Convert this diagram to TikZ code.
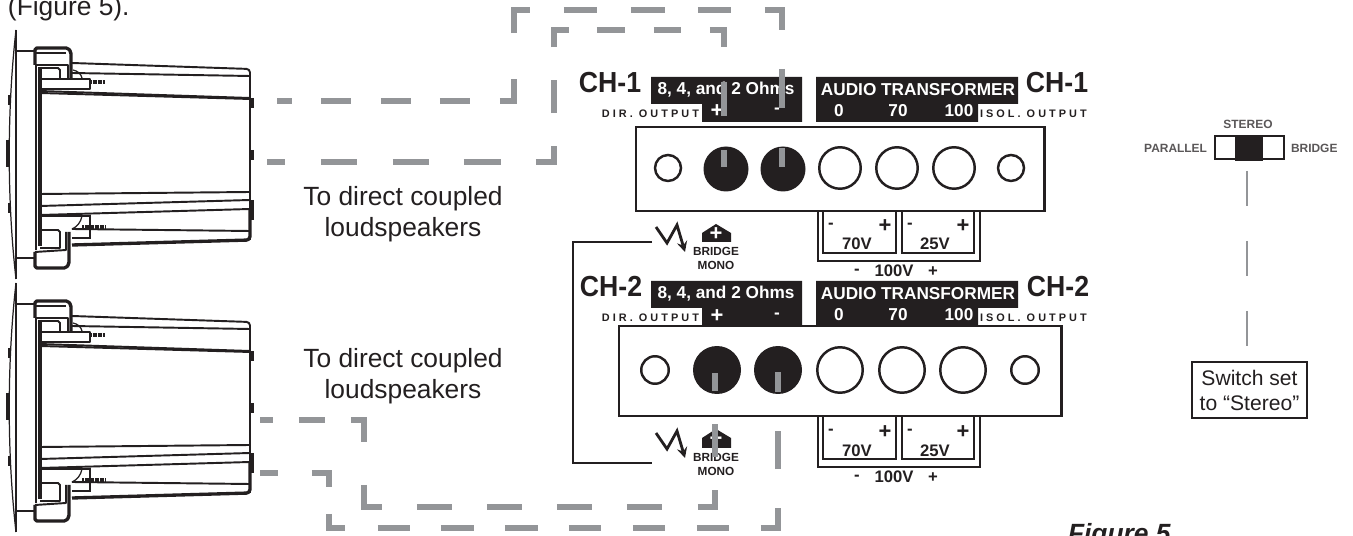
\documentclass[tikz,border=0pt]{standalone}
\usepackage{fontspec}
\setmainfont{Liberation Sans}
\newfontfamily\chfont[FakeStretch=0.92]{Liberation Sans}
\newfontfamily\tagfont[LetterSpace=28]{Liberation Sans}
\definecolor{inkblack}{HTML}{231F20}
\definecolor{wiregray}{HTML}{939598}
\newcommand{\px}{0.569pt}
\tikzset{
	every node/.style={inner sep=0pt,outer sep=0pt,text=inkblack},
	wire/.style={draw=wiregray,line width=2.9pt,miter limit=10},
	spkthin/.style={draw=inkblack,line width=0.7pt},
	spkmid/.style={draw=inkblack,line width=1.1pt,line join=round},
	spkthick/.style={draw=inkblack,line width=1.9pt,line join=round},
	bar/.style={fill=inkblack,draw=none},
	panel/.style={draw=inkblack,line width=1.7pt,fill=white},
	lead/.style={draw=inkblack,line width=1.1pt},
	bolt/.style={draw=inkblack,line width=1.6pt,-stealth},
	smallport/.style={circle,draw=inkblack,line width=1.4pt,minimum size=0.52cm},
	bigport/.style={circle,draw=inkblack,line width=1.4pt,minimum size=0.83cm},
	knob/.style={circle,fill=inkblack,minimum size=0.9cm},
	chlabel/.style={font=\chfont\bfseries\fontsize{16.5}{18}\selectfont},
	barlabel/.style={text=white,font=\bfseries\fontsize{9.8}{11}\selectfont},
	barplus/.style={text=white,font=\bfseries\fontsize{12.5}{14}\selectfont},
	termlabel/.style={font=\bfseries\fontsize{9.5}{11}\selectfont},
	termplus/.style={font=\bfseries\fontsize{12.5}{14}\selectfont},
	outlabel/.style={font=\tagfont\bfseries\fontsize{6.2}{8}\selectfont},
	monolabel/.style={font=\bfseries\fontsize{6.7}{8}\selectfont},
	swlabel/.style={text=inkblack!75,font=\bfseries\fontsize{6.8}{8}\selectfont},
	body/.style={font=\fontsize{15}{17.6}\selectfont,align=center},
	speaker/.pic={
		% baffle and grille
		\draw [spkthin] (16,-30) -- (16,-279);
		\draw [spkthin] (16,-30) .. controls (7,-110) and (7,-200) .. (16,-279);
		\draw [spkthin] (16,-51) -- (35,-51);
		\draw [spkthin] (16,-258) -- (35,-258);
		\draw [spkthick] (8,-140) -- (8,-167);
		\draw [spkthin] (9,-95) -- (9,-105);
		\draw [spkthin] (9,-203) -- (9,-213);
		% flange blocks
		\draw [spkthick,rounded corners=1pt] (35,-65) -- (35,-48) -- (68,-48) -- (71,-52) -- (71,-78);
		\draw [spkmid] (35,-65) -- (68,-65) -- (68,-78);
		\draw [spkthin] (36,-53) -- (66,-53);
		\draw [spkthick,rounded corners=1pt] (35,-252) -- (35,-268) -- (66,-268) -- (69,-264) -- (69,-232);
		\draw [spkmid] (35,-252) -- (66,-250) -- (66,-232);
		% cabinet
		\draw [spkmid] (36,-65) -- (36,-250);
		\draw [spkthick] (40,-67) -- (40,-246);
		\draw [spkmid,rounded corners=2pt] (72,-63) -- (250,-69) -- (250,-240);
		\draw [spkthick,rounded corners=2pt] (250,-210) -- (250,-240) -- (72,-245);
		\draw [spkmid] (72,-73) -- (250,-76);
		\draw [spkmid] (40,-91) -- (250,-98);
		\draw [spkmid] (40,-93) -- (250,-99);
		\draw [spkmid] (40,-194) -- (250,-192);
		\draw [spkmid] (40,-206) -- (250,-200);
		\draw [spkmid] (40,-215) -- (250,-209);
		\draw [spkmid] (72,-229) -- (250,-231);
		% mounting brackets
		\draw [spkmid] (40,-68) -- (58,-68) -- (60,-70) -- (60,-78);
		\draw [spkmid] (40,-79) -- (90,-79) -- (90,-89) -- (40,-89);
		\draw [spkthin] (40,-216) -- (90,-216) -- (90,-238) -- (72,-238);
		\draw [spkmid] (40,-230) -- (58,-230) -- (60,-232) -- (60,-248) -- (40,-248);
		\draw [spkthin] (73,-70) .. controls (78,-71) and (81,-74) .. (82,-78);
		\draw [spkthin] (72,-229) .. controls (77,-227) and (81,-222) .. (82,-216);
		% screws
		\draw [spkthick,line width=2.3pt,dash pattern=on 1.2pt off 0.25pt] (90,-82) -- (105,-82);
		\draw [spkthick,line width=2.3pt,dash pattern=on 1.2pt off 0.25pt] (82,-227) -- (105,-227);
		% bumps on the back
		\draw [spkthick] (252,-98) -- (252,-108);
		\draw [spkthick] (252,-150) -- (252,-160);
		\draw [spkthick] (252,-200) -- (252,-220);
	},
}
\begin{document}
\begin{tikzpicture}[x=0.02cm,y=0.02cm]
	\useasboundingbox (0,0) rectangle (1353,-536);
	\pic at (0,0) {speaker};
	\pic at (0,-253) {speaker};
	% channel 1
	\draw [lead] (818,-205) rectangle (980,-261);
	\draw [lead] (823,-205) rectangle (896,-253);
	\draw [lead] (902,-205) rectangle (974,-253);
	\fill [bar] (651,-77) -- (802,-77) -- (802,-122) -- (702,-122) -- (702,-104) -- (651,-104) -- cycle;
	\fill [bar] (816,-77) -- (1018,-77) -- (1018,-104) -- (978,-104) -- (978,-122) -- (816,-122) -- cycle;
	\draw [panel] (636,-127) rectangle (1044,-211);
	\node [smallport] (ch1dirport) at (668,-168) {};
	\node [knob] (ch1plus) at (726,-169) {};
	\node [knob] (ch1minus) at (783,-169) {};
	\node [bigport] (ch1zero) at (840,-168) {};
	\node [bigport] (ch1seventy) at (897,-168) {};
	\node [bigport] (ch1hundred) at (954,-168) {};
	\node [smallport] (ch1isoport) at (1011,-168) {};
	\node [chlabel] (ch1left) at (610,-83) {CH-1};
	\node [chlabel] (ch1right) at (1057,-83) {CH-1};
	\node [barlabel] (ch1ohms) at (726,-90) {8, 4, and 2 Ohms};
	\node [barlabel] (ch1audio) at (918,-90) {AUDIO TRANSFORMER};
	\node [barplus] (ch1barplus) at (717,-111) {+};
	\node [barlabel] (ch1barminus) at (777,-111) {-};
	\node [barlabel] (ch1bar0) at (839,-111) {0};
	\node [barlabel] (ch1bar70) at (898,-111) {70};
	\node [barlabel] (ch1bar100) at (959,-111) {100};
	\node [outlabel,anchor=east] (ch1dir) at (699,-114) {DIR. OUTPUT};
	\node [outlabel,anchor=west] (ch1iso) at (980,-114) {ISOL. OUTPUT};
	\node [termlabel] (ch1m70) at (831,-226) {-};
	\node [termplus] (ch1p70) at (885,-226) {+};
	\node [termlabel] (ch1v70) at (857,-244) {70V};
	\node [termlabel] (ch1m25) at (910,-226) {-};
	\node [termplus] (ch1p25) at (963,-226) {+};
	\node [termlabel] (ch1v25) at (935,-244) {25V};
	\node [termlabel] (ch1m100) at (857,-272) {-};
	\node [termlabel] (ch1v100) at (894,-271) {100V};
	\node [termlabel] (ch1p100) at (933,-272) {+};
	% channel 2
	\draw [lead] (818,-410) rectangle (980,-467);
	\draw [lead] (823,-410) rectangle (896,-459);
	\draw [lead] (902,-410) rectangle (974,-459);
	\fill [bar] (651,-281) -- (802,-281) -- (802,-328) -- (702,-328) -- (702,-308) -- (651,-308) -- cycle;
	\fill [bar] (816,-281) -- (1018,-281) -- (1018,-308) -- (978,-308) -- (978,-328) -- (816,-328) -- cycle;
	\draw [panel] (619,-326) rectangle (1061,-416);
	\node [smallport,minimum size=0.55cm] (ch2dirport) at (655,-370) {};
	\node [knob,minimum size=0.96cm] (ch2plus) at (717,-370) {};
	\node [knob,minimum size=0.96cm] (ch2minus) at (778,-370) {};
	\node [bigport,minimum size=0.91cm] (ch2zero) at (840,-370) {};
	\node [bigport,minimum size=0.91cm] (ch2seventy) at (902,-370) {};
	\node [bigport,minimum size=0.91cm] (ch2hundred) at (963,-370) {};
	\node [smallport,minimum size=0.55cm] (ch2isoport) at (1025,-370) {};
	\node [chlabel] (ch2left) at (611,-287) {CH-2};
	\node [chlabel] (ch2right) at (1058,-287) {CH-2};
	\node [barlabel] (ch2ohms) at (726,-294) {8, 4, and 2 Ohms};
	\node [barlabel] (ch2audio) at (918,-294) {AUDIO TRANSFORMER};
	\node [barplus] (ch2barplus) at (717,-316) {+};
	\node [barlabel] (ch2barminus) at (777,-316) {-};
	\node [barlabel] (ch2bar0) at (839,-315) {0};
	\node [barlabel] (ch2bar70) at (898,-315) {70};
	\node [barlabel] (ch2bar100) at (959,-315) {100};
	\node [outlabel,anchor=east] (ch2dir) at (699,-318) {DIR. OUTPUT};
	\node [outlabel,anchor=west] (ch2iso) at (980,-318) {ISOL. OUTPUT};
	\node [termlabel] (ch2m70) at (831,-432) {-};
	\node [termplus] (ch2p70) at (885,-432) {+};
	\node [termlabel] (ch2v70) at (857,-451) {70V};
	\node [termlabel] (ch2m25) at (910,-432) {-};
	\node [termplus] (ch2p25) at (963,-432) {+};
	\node [termlabel] (ch2v25) at (935,-451) {25V};
	\node [termlabel] (ch2m100) at (857,-478) {-};
	\node [termlabel] (ch2v100) at (894,-477) {100V};
	\node [termlabel] (ch2p100) at (933,-478) {+};
	% bridge mono link
	\coordinate (linktop) at (652,-242);
	\coordinate (linkleft) at (573,-242);
	\coordinate (linkdown) at (573,-463);
	\coordinate (linkbot) at (652,-463);
	\draw [lead] (linktop) -- (linkleft) -- (linkdown) -- (linkbot);
	\draw [bolt] (656,-227) -- (667,-243) -- (677,-225) -- (685,-252);
	\draw [bolt] (656,-433) -- (667,-449) -- (677,-431) -- (685,-458);
	\fill [bar] (702,-242) -- (702,-233) -- (716,-224) -- (731,-233) -- (731,-242) -- cycle;
	\fill [bar] (702,-448) -- (702,-438) -- (716,-429) -- (731,-438) -- (731,-448) -- cycle;
	\node [barplus] (plustop) at (716,-234) {+};
	\node [barplus] (plusbot) at (716,-439) {+};
	\node [monolabel] (bridgetop) at (716,-251) {BRIDGE};
	\node [monolabel] (monotop) at (716,-265) {MONO};
	\node [monolabel] (bridgebot) at (716,-457) {BRIDGE};
	\node [monolabel] (monobot) at (716,-471) {MONO};
	% speaker wires, one dash list per run
	\coordinate (a0) at (277,-101);
	\coordinate (a1) at (514,-101);
	\coordinate (a2) at (514,-10);
	\coordinate (a3) at (782,-10);
	\coordinate (a4) at (782,-167);
	\draw [wire,dash pattern=on 15*\px off 29*\px on 30*\px off 30*\px on 30*\px off 29*\px on 30*\px off 30*\px on 36*\px off 46*\px on 39*\px off 34*\px on 33*\px off 34*\px on 34*\px off 33*\px on 33*\px off 34*\px on 37*\px off 39*\px on 39*\px off 40*\px on 19*\px off 100*\px]
		(a0) -- (a1) -- (a2) -- (a3) -- (a4);
	\coordinate (b0) at (267,-162);
	\coordinate (b1) at (554,-162);
	\coordinate (b2) at (554,-30);
	\coordinate (b3) at (724,-30);
	\coordinate (b4) at (724,-167);
	\draw [wire,dash pattern=on 18*\px off 36*\px on 36*\px off 36*\px on 36*\px off 35*\px on 37*\px off 35*\px on 34*\px off 33*\px on 33*\px off 33*\px on 32*\px off 28*\px on 28*\px off 29*\px on 27*\px off 29*\px on 31*\px off 35*\px on 34*\px off 34*\px on 17*\px off 100*\px]
		(b0) -- (b1) -- (b2) -- (b3) -- (b4);
	\coordinate (c0) at (260,-420);
	\coordinate (c1) at (364,-420);
	\coordinate (c2) at (364,-507);
	\coordinate (c3) at (715,-507);
	\coordinate (c4) at (715,-373);
	\draw [wire,dash pattern=on 13*\px off 26*\px on 26*\px off 26*\px on 35*\px off 43*\px on 40*\px off 35*\px on 35*\px off 35*\px on 35*\px off 35*\px on 35*\px off 35*\px on 35*\px off 36*\px on 34*\px off 33*\px on 33*\px off 33*\px on 18*\px off 100*\px]
		(c0) -- (c1) -- (c2) -- (c3) -- (c4);
	\coordinate (d0) at (260,-473);
	\coordinate (d1) at (329,-473);
	\coordinate (d2) at (329,-528);
	\coordinate (d3) at (778,-528);
	\coordinate (d4) at (778,-372);
	\draw [wire,dash pattern=on 18*\px off 34*\px on 31*\px off 27*\px on 30*\px off 33*\px on 32*\px off 31*\px on 33*\px off 31*\px on 33*\px off 31*\px on 32*\px off 32*\px on 32*\px off 32*\px on 32*\px off 32*\px on 37*\px off 39*\px on 38*\px off 39*\px on 20*\px off 100*\px]
		(d0) -- (d1) -- (d2) -- (d3) -- (d4);
	% switch
	\node [swlabel] (swstereo) at (1248,-124) {STEREO};
	\node [swlabel,anchor=east] (swparallel) at (1207,-148) {PARALLEL};
	\node [swlabel,anchor=west] (swbridge) at (1291,-148) {BRIDGE};
	\draw [lead] (1215,-136) rectangle (1284,-159);
	\fill [bar] (1235,-136) rectangle (1263,-161);
	\node [draw=inkblack,line width=1.1pt,minimum width=2.3cm,minimum height=1.12cm,align=center,font=\fontsize{12}{14.2}\selectfont] (swnote) at (1249.5,-390) {Switch set\\to “Stereo”};
	\coordinate (swtail) at (1247,-171);
	\draw [wiregray,line width=1.1pt,dash pattern=on 35*\px off 35*\px] (swtail) -- (swtail |- swnote.north);
	% text
	\node [body,anchor=base west] (figref) at (8,-16) {(Figure 5).};
	\node [body] (directtop) at (403,-214) {To direct coupled\\loudspeakers};
	\node [body] (directbot) at (403,-376) {To direct coupled\\loudspeakers};
	\node [font=\bfseries\itshape\fontsize{15}{17}\selectfont,anchor=base west] (figcap) at (1068,-543) {Figure 5};
\end{tikzpicture}
\end{document}
